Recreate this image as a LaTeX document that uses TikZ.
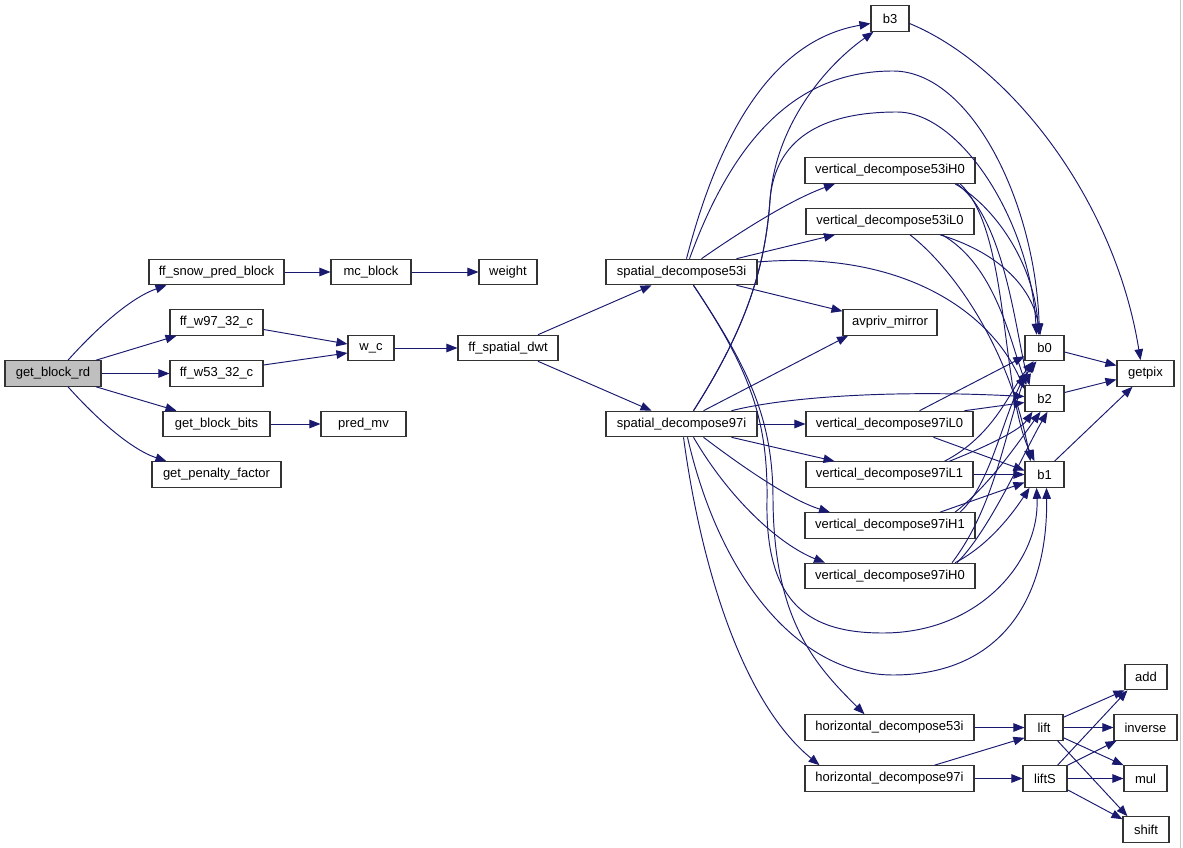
\documentclass[tikz,border=0pt]{standalone}
\usepackage{fontspec}
\setmainfont{Liberation Sans}
\usetikzlibrary{arrows.meta,calc}
\definecolor{eb}{HTML}{191970}
\definecolor{rootfill}{HTML}{BFBFBF}
\tikzset{
 fn/.style={draw=black!80, line width=1.1pt, fill=white, inner sep=0pt, minimum height=25.5pt, font=\fontsize{13}{15}\selectfont, anchor=center},
 conn/.style={draw=eb, line width=0.95pt, -{Triangle[length=11pt,width=8.5pt]}},
}
\begin{document}
\begin{tikzpicture}[x=1pt,y=-1pt]
\fill[white] (0,0) rectangle (1183,848);
\useasboundingbox (0,0) rectangle (1183,848);
\draw[black!22, line width=1pt] (1180.5,0) -- (1180.5,848);
% nodes
\node[fn, fill=rootfill, minimum width=96pt] (rd) at (53,373.5) {get\_block\_rd};
\node[fn, minimum width=135pt] (snow) at (216.5,272) {ff\_snow\_pred\_block};
\node[fn, minimum width=93pt] (w97) at (216.5,322.5) {ff\_w97\_32\_c};
\node[fn, minimum width=93pt] (w53) at (216.5,373.5) {ff\_w53\_32\_c};
\node[fn, minimum width=107pt] (bits) at (216.5,424) {get\_block\_bits};
\node[fn, minimum width=129pt] (pen) at (216.5,474.5) {get\_penalty\_factor};
\node[fn, minimum width=80pt] (mc) at (371,272) {mc\_block};
\node[fn, minimum width=58pt] (weight) at (508,272) {weight};
\node[fn, minimum width=46pt] (wc) at (371,348) {w\_c};
\node[fn, minimum width=100pt] (dwt) at (508,348) {ff\_spatial\_dwt};
\node[fn, minimum width=85pt] (pred) at (363.5,424) {pred\_mv};
\node[fn, minimum width=151pt] (sd53) at (681.5,272) {spatial\_decompose53i};
\node[fn, minimum width=151pt] (sd97) at (681.5,424) {spatial\_decompose97i};
\node[fn, minimum width=38pt] (b3) at (890,18.5) {b3};
\node[fn, minimum width=170pt] (v53H0) at (890,170.5) {vertical\_decompose53iH0};
\node[fn, minimum width=168pt] (v53L0) at (890,221.5) {vertical\_decompose53iL0};
\node[fn, minimum width=94pt] (mirror) at (890,322.5) {avpriv\_mirror};
\node[fn, minimum width=167pt] (vL0) at (889.5,424) {vertical\_decompose97iL0};
\node[fn, minimum width=167pt] (vL1) at (889.5,474.5) {vertical\_decompose97iL1};
\node[fn, minimum width=170pt] (vH1) at (890,525.5) {vertical\_decompose97iH1};
\node[fn, minimum width=170pt] (vH0) at (890,576) {vertical\_decompose97iH0};
\node[fn, minimum width=169pt] (h53) at (889.5,727.5) {horizontal\_decompose53i};
\node[fn, minimum width=169pt] (h97) at (889.5,778.5) {horizontal\_decompose97i};
\node[fn, minimum width=39pt] (b0) at (1044.5,348) {b0};
\node[fn, minimum width=39pt] (b2) at (1044.5,398.5) {b2};
\node[fn, minimum width=39pt] (b1) at (1044.5,474.5) {b1};
\node[fn, minimum width=57pt] (getpix) at (1145.5,373.5) {getpix};
\node[fn, minimum width=38pt] (lift) at (1044,727.5) {lift};
\node[fn, minimum width=44pt] (liftS) at (1045,778.5) {liftS};
\node[fn, minimum width=42pt] (add) at (1146,677) {add};
\node[fn, minimum width=63pt] (inverse) at (1145.5,727.5) {inverse};
\node[fn, minimum width=43pt] (mul) at (1145.5,778.5) {mul};
\node[fn, minimum width=46pt] (shift) at (1146,829.5) {shift};
% left part
\draw[conn] ([xshift=15pt]rd.north) .. controls (95,330) and (130,298) .. ([xshift=-50pt]snow.south);
\draw[conn] ([xshift=43pt]rd.north) -- ([xshift=-40pt]w97.south);
\draw[conn] (rd.east) -- (w53.west);
\draw[conn] ([xshift=43pt]rd.south) -- ([xshift=-40pt]bits.north);
\draw[conn] ([xshift=15pt]rd.south) .. controls (95,417) and (130,449) .. ([xshift=-50pt]pen.north);
\draw[conn] (snow.east) -- (mc.west);
\draw[conn] (mc.east) -- (weight.west);
\draw[conn] ([yshift=-7pt]w97.east) -- ([yshift=4pt]wc.west);
\draw[conn] ([yshift=8.5pt]w53.east) -- ([yshift=-5pt]wc.west);
\draw[conn] (wc.east) -- (dwt.west);
\draw[conn] (bits.east) -- (pred.west);
\draw[conn] ([xshift=30pt]dwt.north) -- ([xshift=-30pt]sd53.south);
\draw[conn] ([xshift=30pt]dwt.south) -- ([xshift=-30pt]sd97.north);
% spatial_decompose53i
\draw[conn] ([xshift=5pt]sd53.north) .. controls (725,110) and (785,38) .. ([yshift=-5pt]b3.west);
\draw[conn] ([xshift=8pt]sd53.north) .. controls (740,120) and (810,71) .. (893,71) .. controls (970,71) and (1035,200) .. ([xshift=-5pt]b0.north);
\draw[conn] ([xshift=20pt]sd53.north) .. controls (740,232) and (790,200) .. ([xshift=-55pt]v53H0.south);
\draw[conn] ([xshift=55pt]sd53.north) -- ([xshift=-55pt]v53L0.south);
\draw[conn] ([yshift=10pt]sd53.east) .. controls (900,250) and (990,310) .. ([yshift=-4pt]b2.north west);
\draw[conn] ([xshift=55pt]sd53.south) -- ([yshift=-2pt]mirror.north west);
\draw[conn] ([xshift=12pt]sd53.south) .. controls (750,370) and (773,420) .. (773,500) .. controls (774,620) and (815,665) .. ([xshift=-25pt]h53.north);
\draw[conn] ([xshift=12pt]sd53.south) .. controls (750,370) and (768,420) .. (767,500) .. controls (765,605) and (810,633) .. (883,633) .. controls (980,633) and (1040,560) .. ([xshift=-8pt]b1.south);
% spatial_decompose97i
\draw[conn] ([xshift=12pt]sd97.north) .. controls (745,330) and (765,270) .. (770,200) .. controls (775,130) and (820,70) .. ([xshift=3pt]b3.south west);
\draw[conn] ([xshift=12pt]sd97.north) .. controls (745,330) and (765,270) .. (770,200) .. controls (775,140) and (820,112) .. (897,112) .. controls (960,112) and (1030,220) .. ([xshift=-8pt]b0.north);
\draw[conn] ([xshift=22pt]sd97.north) -- ([xshift=-42pt]mirror.south);
\draw[conn] ([xshift=50pt]sd97.north) .. controls (790,396) and (900,390) .. ([yshift=2pt]b2.west);
\draw[conn] (sd97.east) -- (vL0.west);
\draw[conn] ([xshift=50pt]sd97.south) -- ([xshift=-55pt]vL1.north);
\draw[conn] ([xshift=22pt]sd97.south) .. controls (740,465) and (790,500) .. ([xshift=-60pt]vH1.north);
\draw[conn] ([xshift=12pt]sd97.south) .. controls (730,500) and (780,545) .. ([xshift=-65pt]vH0.north);
\draw[conn] ([xshift=2pt]sd97.south) .. controls (700,560) and (740,700) .. ([xshift=-70pt]h97.north);
\draw[conn] ([xshift=6pt]sd97.south) .. controls (720,580) and (800,675) .. (893,675) .. controls (1000,675) and (1048,600) .. ([xshift=2pt]b1.south);
% vertical 53
\draw[conn] ([xshift=65pt]v53H0.south) .. controls (1000,210) and (1035,270) .. ([xshift=-6pt]b0.north);
\draw[conn] ([xshift=67pt]v53H0.south) .. controls (1005,220) and (1015,330) .. ([xshift=5pt]b2.north west);
\draw[conn] ([xshift=70pt]v53H0.south) .. controls (1010,230) and (1000,390) .. ([xshift=-10pt]b1.north);
\draw[conn] ([xshift=50pt]v53L0.south) .. controls (990,250) and (1030,280) .. ([xshift=-4pt]b0.north);
\draw[conn] ([xshift=52pt]v53L0.south) .. controls (995,265) and (1010,340) .. ([xshift=2pt]b2.north west);
\draw[conn] ([xshift=20pt]v53L0.south) .. controls (955,270) and (1010,350) .. ([xshift=-14pt]b1.north);
% vertical 97
\draw[conn] ([xshift=30pt]vL0.north) -- ([yshift=5pt]b0.south west);
\draw[conn] ([xshift=75pt]vL0.north) -- ([yshift=-4pt]b2.west);
\draw[conn] ([xshift=44pt]vL0.south) -- ([yshift=4pt]b1.west);
\draw[conn] (vL1.east) -- (b1.west);
\draw[conn] ([xshift=60pt]vL1.north) .. controls (990,445) and (1020,430) .. ([xshift=-12pt]b2.south);
\draw[conn] ([xshift=55pt]vL1.north) .. controls (995,435) and (1010,390) .. ([xshift=-11pt]b0.south);
\draw[conn] ([xshift=50pt]vH1.north) -- ([yshift=-8pt]b1.west);
\draw[conn] ([xshift=70pt]vH1.north) .. controls (995,480) and (1005,400) .. ([xshift=-8pt]b0.south);
\draw[conn] ([xshift=65pt]vH1.north) .. controls (990,485) and (1020,440) .. ([xshift=-4pt]b2.south);
\draw[conn] ([xshift=65pt]vH0.north) .. controls (990,545) and (1015,510) .. ([xshift=-15pt]b1.south);
\draw[conn] ([xshift=67pt]vH0.north) .. controls (990,530) and (1025,450) .. ([xshift=3pt]b2.south);
\draw[conn] ([xshift=62pt]vH0.north) .. controls (1000,500) and (1008,410) .. ([xshift=-11pt]b0.south);
% getpix
\draw[conn] ([yshift=-4pt]b0.east) -- ([yshift=8pt]getpix.west);
\draw[conn] ([yshift=6pt]b2.east) -- ([yshift=-6pt]getpix.west);
\draw[conn] ([xshift=10pt]b1.north) -- ([xshift=-13pt]getpix.south);
\draw[conn] ([yshift=-5pt]b3.east) .. controls (1010,65) and (1115,200) .. ([xshift=-5pt]getpix.north);
% lifting
\draw[conn] (h53.east) -- (lift.west);
\draw[conn] ([xshift=45pt]h97.north) -- ([yshift=3pt]lift.south west);
\draw[conn] (h97.east) -- (liftS.west);
\draw[conn] ([yshift=-3pt]lift.north east) -- (add.south west);
\draw[conn] (lift.east) -- (inverse.west);
\draw[conn] ([yshift=3pt]lift.south east) -- (mul.north west);
\draw[conn] ([xshift=-6pt]lift.south east) -- ([xshift=5pt]shift.north west);
\draw[conn] ([xshift=-10pt]liftS.north east) -- ([xshift=3pt]add.south west);
\draw[conn] (liftS.north east) -- ([xshift=3pt]inverse.south west);
\draw[conn] (liftS.east) -- (mul.west);
\draw[conn] ([yshift=2pt]liftS.south east) -- ([yshift=-3pt]shift.north west);
\end{tikzpicture}
\end{document}
